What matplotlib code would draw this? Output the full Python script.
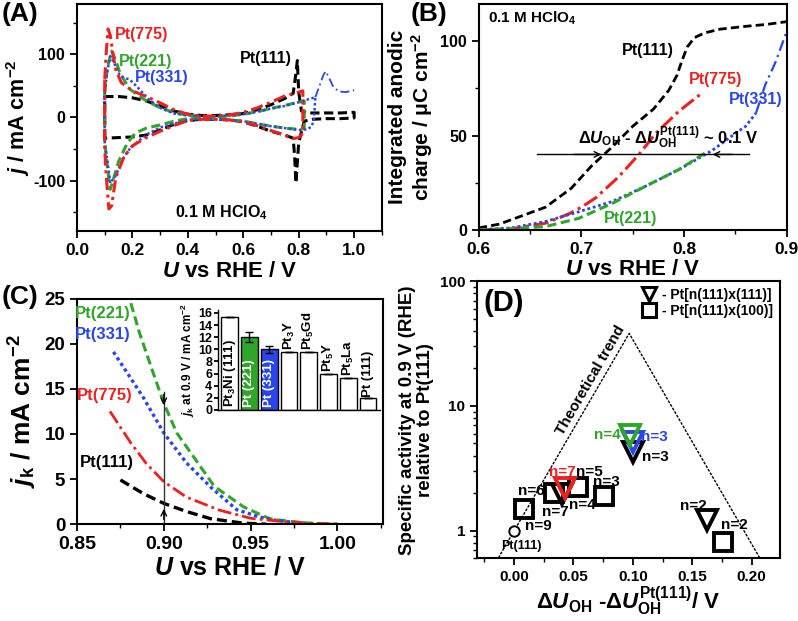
import matplotlib
matplotlib.use('Agg')
import matplotlib.pyplot as plt
from matplotlib.lines import Line2D
from matplotlib.ticker import MultipleLocator, FuncFormatter, LogLocator, NullFormatter

plt.rcParams['font.family'] = ['Liberation Sans', 'DejaVu Sans']
plt.rcParams['font.weight'] = 'bold'
plt.rcParams['axes.labelweight'] = 'bold'
plt.rcParams['mathtext.fontset'] = 'custom'
plt.rcParams['mathtext.rm'] = 'Liberation Sans:bold'
plt.rcParams['mathtext.it'] = 'Liberation Sans:italic:bold'
plt.rcParams['mathtext.bf'] = 'Liberation Sans:bold'
plt.rcParams['axes.unicode_minus'] = False
plt.rcParams['axes.linewidth'] = 1.5
plt.rcParams['xtick.direction'] = 'out'
plt.rcParams['ytick.direction'] = 'out'
plt.rcParams['xtick.major.width'] = 1.3
plt.rcParams['ytick.major.width'] = 1.3
plt.rcParams['xtick.minor.width'] = 1.0
plt.rcParams['ytick.minor.width'] = 1.0
plt.rcParams['xtick.major.size'] = 5
plt.rcParams['ytick.major.size'] = 5
plt.rcParams['xtick.minor.size'] = 3
plt.rcParams['ytick.minor.size'] = 3

RED = '#ee2020'
GREEN = '#2fa52a'
BLUE = '#2a45ea'

# ---------------- (A) cyclic voltammograms ----------------
a111_u = [0.10, 0.10, 0.15, 0.20, 0.25, 0.30, 0.35, 0.40, 0.45, 0.50, 0.55, 0.60, 0.65, 0.70, 0.75, 0.78,
          0.790, 0.795, 0.80, 0.81, 0.83, 0.85, 0.90, 0.95, 1.00,
          1.00, 0.95, 0.90, 0.85, 0.82, 0.80, 0.79, 0.785, 0.78, 0.75, 0.70, 0.65, 0.60, 0.55, 0.50, 0.45,
          0.40, 0.35, 0.30, 0.25, 0.20, 0.15, 0.10]
a111_j = [-33, 33, 33, 31, 26, 18, 10, 5, 3, 3, 4, 6, 12, 20, 30, 38,
          70, 90, 40, 10, 7, 7, 7, 7, 8,
          -1, -2, -2, -3, -6, -40, -104, -60, -33, -28, -22, -14, -7, -4, -3, -3,
          -5, -11, -20, -28, -31, -32, -33]

a775_u = [0.10, 0.105, 0.112, 0.12, 0.13, 0.14, 0.16, 0.20, 0.25, 0.30, 0.35, 0.40, 0.45, 0.50, 0.55, 0.60,
          0.65, 0.70, 0.75, 0.80, 0.815,
          0.815, 0.80, 0.775, 0.75, 0.70, 0.65, 0.60, 0.55, 0.50, 0.45, 0.40, 0.35, 0.30, 0.25, 0.20, 0.17,
          0.14, 0.125, 0.115, 0.105, 0.10, 0.10]
a775_j = [60, 100, 140, 130, 100, 75, 55, 42, 33, 23, 12, 5, 2, 2, 4, 8,
          15, 24, 34, 40, 42,
          -25, -32, -34, -28, -21, -13, -7, -4, -3, -3, -5, -13, -22, -32, -45, -62,
          -95, -140, -145, -90, -50, 60]

a221_u = [0.10, 0.11, 0.125, 0.14, 0.155, 0.19, 0.24, 0.30, 0.35, 0.40, 0.45, 0.50, 0.55, 0.60, 0.65, 0.70,
          0.75, 0.80, 0.82,
          0.82, 0.80, 0.75, 0.70, 0.65, 0.60, 0.55, 0.50, 0.45, 0.40, 0.35, 0.30, 0.25, 0.21, 0.18, 0.15,
          0.13, 0.12, 0.11, 0.10, 0.10]
a221_j = [40, 80, 105, 90, 70, 45, 29, 15, 8, 3, 1, 1, 2, 5, 9, 14,
          19, 24, 26,
          -18, -19, -17, -14, -10, -6, -4, -2, -1, -2, -6, -12, -17, -25, -42, -70,
          -100, -114, -80, -40, 40]

a331_u = [0.10, 0.11, 0.12, 0.135, 0.155, 0.175, 0.19, 0.22, 0.26, 0.30, 0.35, 0.40, 0.45, 0.50, 0.55, 0.60,
          0.65, 0.70, 0.75, 0.80, 0.83, 0.86,
          0.855, 0.845, 0.83, 0.80, 0.75, 0.70, 0.65, 0.60, 0.55, 0.50, 0.45, 0.40, 0.35, 0.30, 0.26, 0.22,
          0.19, 0.165, 0.14, 0.12, 0.11, 0.10, 0.10]
a331_j = [40, 75, 97, 85, 66, 62, 60, 47, 28, 15, 6, 3, 2, 2, 3, 5,
          9, 14, 18, 24, 28, 32,
          -5, -15, -19, -20, -17, -14, -10, -6, -4, -3, -3, -4, -10, -16, -25, -38,
          -50, -66, -92, -104, -70, -40, 40]

a331ext_u = [0.86, 0.875, 0.89, 0.898, 0.91, 0.925, 0.945, 0.97, 1.00]
a331ext_j = [32, 50, 68, 73, 62, 48, 41, 40, 43]

# ---------------- (B) integrated anodic charge ----------------
b111_u = [0.60, 0.62, 0.64, 0.665, 0.69, 0.71, 0.73, 0.75, 0.77, 0.785, 0.793, 0.798, 0.803, 0.81, 0.82,
          0.835, 0.86, 0.88, 0.90]
b111_q = [1, 3, 7, 12, 22, 34, 44, 55, 64, 74, 82, 90, 97, 102, 104.5, 106.5, 108, 109, 110.5]
b775_u = [0.60, 0.632, 0.665, 0.688, 0.70, 0.714, 0.736, 0.756, 0.772, 0.795, 0.816]
b775_q = [0, 0.5, 3.5, 8.5, 12, 17, 28, 40, 51, 63, 72]
b221_u = [0.60, 0.63, 0.665, 0.697, 0.73, 0.762, 0.795, 0.821]
b221_q = [0, 0.5, 1.7, 6, 14, 23, 32, 41]
b331_u = [0.60, 0.632, 0.665, 0.697, 0.73, 0.762, 0.795, 0.827, 0.847, 0.86, 0.87]
b331_q = [0, 1, 4.4, 9.5, 15, 23, 32, 42, 50, 55, 62]
b331ext_u = [0.87, 0.879, 0.889, 0.899, 0.90]
b331ext_q = [62, 77, 89, 104, 106]

# ---------------- (C) kinetic current ----------------
c221_u = [0.881, 0.886, 0.894, 0.900, 0.9075, 0.917, 0.929, 0.946, 0.961, 0.9725, 0.985, 1.0]
c221_j = [24.5, 21.2, 16.7, 13.4, 10.1, 7.5, 4.2, 1.9, 0.6, 0.3, 0.1, 0.0]
c331_u = [0.871, 0.888, 0.90, 0.913, 0.927, 0.942, 0.955, 0.965, 0.98]
c331_j = [19.1, 14.1, 10.1, 6.8, 4.1, 1.6, 0.8, 0.4, 0.1]
c775_u = [0.869, 0.881, 0.89, 0.90, 0.913, 0.932, 0.95, 0.97, 0.985, 1.0]
c775_j = [12.5, 9.0, 6.7, 4.7, 3.0, 1.55, 0.65, 0.25, 0.1, 0.0]
c111_u = [0.875, 0.888, 0.90, 0.913, 0.927, 0.946, 0.959]
c111_j = [4.9, 3.4, 2.3, 1.4, 0.6, 0.1, 0.0]

inset_labels = ['Pt$_3$Ni (111)', 'Pt (221)', 'Pt (331)', 'Pt$_3$Y', 'Pt$_5$Gd', 'Pt$_5$Y', 'Pt$_5$La', 'Pt (111)']
inset_values = [15.4, 12.0, 10.0, 9.5, 9.5, 5.9, 5.3, 1.9]
inset_errors = [0, 0.8, 0.6, 0, 0, 0, 0, 0]
inset_colors = ['white', GREEN, BLUE, 'white', 'white', 'white', 'white', 'white']

# ---------------- (D) activity vs dU_OH ----------------
tri_x = [0.040, 0.1003, 0.1625]
tri_y = [1.95, 4.31, 1.21]
tri_red = (0.0429, 2.19)
tri_green = (0.0975, 5.86)
tri_blue = (0.1003, 5.18)
sq_x = [0.0087, 0.0336, 0.0535, 0.0757, 0.176]
sq_y = [1.49, 2.02, 2.24, 1.88, 0.81]
pt111_pt = (0.0, 1.0)
trend_x = [-0.0132, 0.0969, 0.2067]
trend_y = [0.605, 38.2, 0.605]

fig = plt.figure(figsize=(7.98, 6.21), dpi=100)

# ---------- A ----------
axA = fig.add_axes([0.0965, 0.628, 0.382, 0.366])
axA.plot(a111_u, a111_j, color='black', ls=(0, (3, 1.5)), lw=2.2)
axA.plot(a221_u, a221_j, color=GREEN, ls=(0, (3, 1.5)), lw=2.2)
axA.plot(a331_u, a331_j, color=BLUE, ls=(0, (1, 1)), lw=1.8)
axA.plot(a331ext_u, a331ext_j, color=BLUE, ls=(0, (5, 2, 1, 2)), lw=1.3)
axA.plot(a775_u, a775_j, color=RED, ls=(0, (4, 1.5, 1, 1.5)), lw=2.2)
axA.set_xlim(0, 1.1)
axA.set_ylim(-180, 180)
axA.xaxis.set_major_locator(MultipleLocator(0.2))
axA.xaxis.set_minor_locator(MultipleLocator(0.1))
axA.yaxis.set_major_locator(MultipleLocator(100))
axA.yaxis.set_minor_locator(MultipleLocator(50))
axA.xaxis.set_major_formatter(FuncFormatter(lambda v, p: f'{v:.1f}'))
axA.tick_params(axis='x', labelsize=12.5)
axA.tick_params(axis='y', labelsize=11.5)
axA.set_xlabel(r'$U$ vs RHE / V', fontsize=16, labelpad=2)
axA.set_ylabel(r'$j$ / mA cm$^{-2}$', fontsize=15.5, labelpad=1)
axA.text(0.136, 132, 'Pt(775)', color=RED, fontsize=11.5, va='center')
axA.text(0.15, 89, 'Pt(221)', color=GREEN, fontsize=11.5, va='center')
axA.text(0.208, 63, 'Pt(331)', color=BLUE, fontsize=11.5, va='center')
axA.text(0.775, 93, 'Pt(111)', color='black', fontsize=11.5, va='center', ha='right')
axA.text(0.52, -151, r'0.1 M HClO$_4$', fontsize=11.5, ha='center', va='center')
fig.text(0.002, 0.997, '(A)', fontsize=19, va='top', ha='left')

# ---------- B ----------
axB = fig.add_axes([0.600, 0.630, 0.386, 0.364])
axB.plot(b111_u, b111_q, color='black', ls=(0, (3, 1.5)), lw=2)
axB.plot(b775_u, b775_q, color=RED, ls=(0, (5, 1.5, 1, 1.5)), lw=2.2)
axB.plot(b331_u, b331_q, color=BLUE, ls=(0, (1, 1)), lw=2)
axB.plot(b331ext_u, b331ext_q, color=BLUE, ls=(0, (5, 2, 1, 2)), lw=1.6)
axB.plot(b221_u, b221_q, color=GREEN, ls=(0, (3, 1.5)), lw=2.2)
axB.set_xlim(0.6, 0.9)
axB.set_ylim(0, 120)
axB.xaxis.set_major_locator(MultipleLocator(0.1))
axB.xaxis.set_minor_locator(MultipleLocator(0.05))
axB.yaxis.set_major_locator(MultipleLocator(50))
axB.yaxis.set_minor_locator(MultipleLocator(25))
axB.tick_params(axis='x', labelsize=12.5)
axB.tick_params(axis='y', labelsize=11.5)
axB.set_xlabel(r'$U$ vs RHE / V', fontsize=16, labelpad=2)
axB.set_ylabel('Integrated anodic\ncharge / \u03bcC cm$^{-2}$', fontsize=15, labelpad=4, linespacing=1.1)
axB.plot([0.657, 0.863], [40, 40], color='black', lw=1)
axB.annotate('', xy=(0.722, 40), xytext=(0.690, 40),
             arrowprops=dict(arrowstyle='->', color='black', lw=1))
axB.annotate('', xy=(0.825, 40), xytext=(0.850, 40),
             arrowprops=dict(arrowstyle='->', color='black', lw=1))
axB.text(0.785, 42, r'$\Delta U_{\mathrm{OH}}$ - $\Delta U_{\mathrm{OH}}^{\mathrm{Pt(111)}}$ ~ 0.1 V',
         fontsize=12, ha='center', va='bottom')
axB.text(0.79, 95, 'Pt(111)', fontsize=11.5, ha='right', va='center')
axB.text(0.831, 80, 'Pt(775)', color=RED, fontsize=11.5, ha='center', va='center')
axB.text(0.870, 69, 'Pt(331)', color=BLUE, fontsize=11.5, ha='center', va='center')
axB.text(0.748, 6, 'Pt(221)', color=GREEN, fontsize=11.5, ha='center', va='center')
axB.text(0.609, 112, r'0.1 M HClO$_4$', fontsize=11, ha='left', va='center')
fig.text(0.514, 0.997, '(B)', fontsize=19, va='top', ha='left')

# ---------- C ----------
axC = fig.add_axes([0.0965, 0.156, 0.383, 0.363])
axC.plot(c221_u, c221_j, color=GREEN, ls=(0, (3, 1.5)), lw=2.2)
axC.plot(c331_u, c331_j, color=BLUE, ls=(0, (1, 1)), lw=2.4)
axC.plot(c775_u, c775_j, color=RED, ls=(0, (5, 1.5, 1, 1.5)), lw=2)
axC.plot(c111_u, c111_j, color='black', ls=(0, (3, 1.5)), lw=2.4)
axC.plot([0.9, 0.9], [0, 14.7], color='#333333', lw=1)
axC.annotate('', xy=(0.9, 12.9), xytext=(0.9, 14.7),
             arrowprops=dict(arrowstyle='->', color='black', lw=1))
axC.annotate('', xy=(0.9, 2.0), xytext=(0.9, 0.2),
             arrowprops=dict(arrowstyle='->', color='black', lw=1))
axC.set_xlim(0.85, 1.026)
axC.set_ylim(0, 25)
axC.xaxis.set_major_locator(MultipleLocator(0.05))
axC.xaxis.set_minor_locator(MultipleLocator(0.025))
axC.yaxis.set_major_locator(MultipleLocator(5))
axC.xaxis.set_major_formatter(FuncFormatter(lambda v, p: f'{v:.2f}'))
axC.tick_params(axis='x', labelsize=14)
axC.tick_params(axis='y', labelsize=13.5)
axC.set_xlabel(r'$U$ vs RHE / V', fontsize=18, labelpad=2)
axC.set_ylabel(r'$j_{\mathrm{k}}$ / mA cm$^{-2}$', fontsize=19, labelpad=4)
axC.text(0.865, 23.4, 'Pt(221)', color=GREEN, fontsize=12, ha='center', va='center')
axC.text(0.865, 21.0, 'Pt(331)', color=BLUE, fontsize=12, ha='center', va='center')
axC.text(0.866, 14.3, 'Pt(775)', color=RED, fontsize=12, ha='center', va='center')
axC.text(0.867, 6.8, 'Pt(111)', color='black', fontsize=12, ha='center', va='center')
fig.text(0.002, 0.522, '(C)', fontsize=19, va='center', ha='left')

axI = fig.add_axes([0.273, 0.340, 0.203, 0.161])
pos = list(range(len(inset_values)))
axI.bar(pos, inset_values, width=0.85, color=inset_colors, edgecolor='black', lw=1,
        yerr=inset_errors, error_kw=dict(ecolor='black', lw=1, capsize=3, capthick=1))
for i, (lab, v) in enumerate(zip(inset_labels, inset_values)):
    if i == 0:
        axI.text(i, 0.4, lab, rotation=90, ha='center', va='bottom', fontsize=9.5, color='black')
    elif i in (1, 2):
        axI.text(i, 0.4, lab, rotation=90, ha='center', va='bottom', fontsize=9.5, color='white')
    else:
        axI.text(i, v + 0.3, lab, rotation=90, ha='center', va='bottom', fontsize=9.5, color='black')
axI.set_xlim(-0.6, 7.6)
axI.set_ylim(0, 16.5)
axI.set_xticks([])
axI.yaxis.set_major_locator(MultipleLocator(2))
axI.tick_params(axis='y', labelsize=9, length=3, pad=1)
axI.spines['top'].set_visible(False)
axI.spines['right'].set_visible(False)
axI.spines['left'].set_linewidth(1)
axI.spines['bottom'].set_linewidth(1)
axI.patch.set_alpha(0)
axI.set_ylabel(r'$j_{\mathrm{k}}$ at 0.9 V / mA cm$^{-2}$', fontsize=8.5, labelpad=1)

# ---------- D ----------
axD = fig.add_axes([0.598, 0.101, 0.379, 0.446])
axD.set_yscale('log')
axD.plot(trend_x, trend_y, color='black', ls=(0, (2, 1)), lw=1)
axD.plot(sq_x, sq_y, ls='none', marker='s', ms=13, mfc='none', mec='black', mew=2.8)
axD.plot(tri_x, tri_y, ls='none', marker='v', ms=14, mfc='none', mec='black', mew=2.8)
axD.plot([tri_red[0]], [tri_red[1]], ls='none', marker='v', ms=14, mfc='none', mec=RED, mew=2.8)
axD.plot([tri_blue[0]], [tri_blue[1]], ls='none', marker='v', ms=14, mfc='none', mec=BLUE, mew=2.8)
axD.plot([tri_green[0]], [tri_green[1]], ls='none', marker='v', ms=14, mfc='none', mec=GREEN, mew=2.8)
axD.plot([pt111_pt[0]], [pt111_pt[1]], ls='none', marker='o', ms=7.5, mfc='white', mec='black', mew=1.4)
axD.set_xlim(-0.031, 0.2235)
axD.set_ylim(0.6, 100)
axD.xaxis.set_major_locator(MultipleLocator(0.05))
axD.xaxis.set_minor_locator(MultipleLocator(0.025))
axD.xaxis.set_major_formatter(FuncFormatter(lambda v, p: f'{v:.2f}'))
axD.yaxis.set_major_locator(LogLocator(base=10))
axD.yaxis.set_minor_locator(LogLocator(base=10, subs=range(2, 10)))
axD.yaxis.set_major_formatter(FuncFormatter(lambda v, p: f'{v:g}'))
axD.yaxis.set_minor_formatter(NullFormatter())
axD.tick_params(axis='both', labelsize=11)
axD.set_xlabel(r'$\Delta U_{\mathrm{OH}}$ -$\Delta U_{\mathrm{OH}}^{\mathrm{Pt(111)}}$/ V', fontsize=16, labelpad=0)
axD.set_ylabel('Specific activity at 0.9 V (RHE)\nrelative to Pt(111)', fontsize=13.5, labelpad=4,
               linespacing=1.1)
axD.text(0.064, 16.1, 'Theoretical trend', rotation=60, fontsize=11, ha='center', va='center')
lab_kw = dict(fontsize=11, va='center')
axD.text(0.0895, 5.86, 'n=4', color=GREEN, ha='right', **lab_kw)
axD.text(0.1065, 5.6, 'n=3', color=BLUE, ha='left', **lab_kw)
axD.text(0.108, 3.93, 'n=3', color='black', ha='left', **lab_kw)
axD.text(0.041, 2.98, 'n=7', color=RED, ha='center', **lab_kw)
axD.text(0.063, 2.98, 'n=5', color='black', ha='center', **lab_kw)
axD.text(0.078, 2.44, 'n=3', color='black', ha='center', **lab_kw)
axD.text(0.0145, 2.06, 'n=6', color='black', ha='center', **lab_kw)
axD.text(0.0345, 1.41, 'n=7', color='black', ha='center', **lab_kw)
axD.text(0.0575, 1.61, 'n=4', color='black', ha='center', **lab_kw)
axD.text(0.0205, 1.08, 'n=9', color='black', ha='center', **lab_kw)
axD.text(0.006, 0.75, 'Pt(111)', color='black', ha='center', fontsize=9, va='center')
axD.text(0.151, 1.58, 'n=2', color='black', ha='center', **lab_kw)
axD.text(0.185, 1.10, 'n=2', color='black', ha='center', **lab_kw)
axD.text(0.02, 0.92, '(D)', transform=axD.transAxes, fontsize=21, ha='left', va='center')
handles = [Line2D([], [], ls='none', marker='v', ms=10, mfc='none', mec='black', mew=2.2),
           Line2D([], [], ls='none', marker='s', ms=9.5, mfc='none', mec='black', mew=2.2)]
axD.legend(handles, ['- Pt[n(111)x(111)]', '- Pt[n(111)x(100)]'], loc='upper right', frameon=False,
           fontsize=10, handletextpad=0.3, borderaxespad=0.1, labelspacing=0.15, handlelength=1.2)

fig.savefig('out.png', dpi=100)
